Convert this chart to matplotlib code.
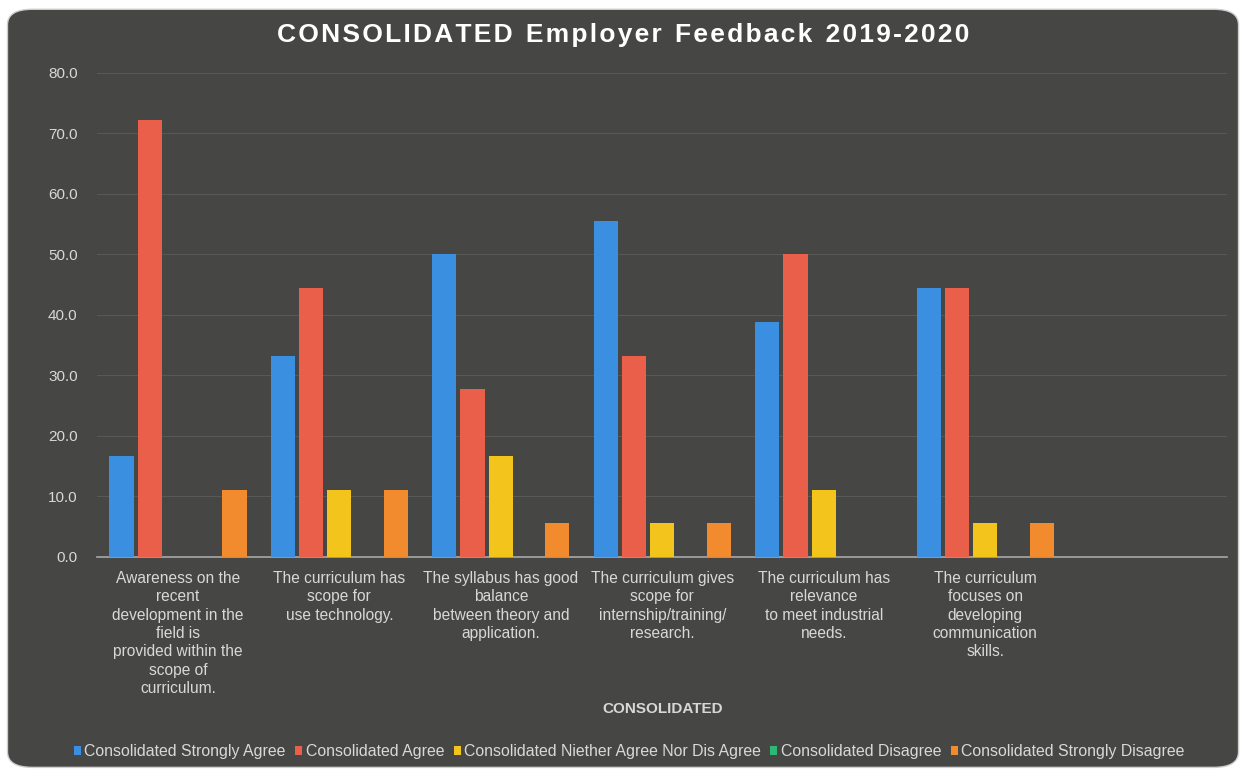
import matplotlib
matplotlib.use("Agg")
import matplotlib.pyplot as plt
import numpy as np
from matplotlib.patches import FancyBboxPatch

plt.rcParams['font.family'] = ['Liberation Sans', 'DejaVu Sans']

categories = [
    "Awareness on the\nrecent\ndevelopment in the\nfield is\nprovided within the\nscope of\ncurriculum.",
    "The curriculum has\nscope for\nuse technology.",
    "The syllabus has good\nbalance\nbetween theory and\napplication.",
    "The curriculum gives\nscope for\ninternship/training/\nresearch.",
    "The curriculum has\nrelevance\nto meet industrial\nneeds.",
    "The curriculum\nfocuses on\ndeveloping\ncommunication\nskills.",
    "",
]

strongly_agree = [16.7, 33.3, 50.0, 55.6, 38.9, 44.4, 0]
agree = [72.2, 44.4, 27.8, 33.3, 50.0, 44.4, 0]
neither = [0, 11.1, 16.7, 5.6, 11.1, 5.6, 0]
disagree = [0, 0, 0, 0, 0, 0, 0]
strongly_disagree = [11.1, 11.1, 5.6, 5.6, 0, 5.6, 0]

series_names = [
    "Consolidated Strongly Agree",
    "Consolidated Agree",
    "Consolidated Niether Agree Nor Dis Agree",
    "Consolidated Disagree",
    "Consolidated Strongly Disagree",
]
series_values = [strongly_agree, agree, neither, disagree, strongly_disagree]
colors = ["#3b8fe0", "#ea5f4a", "#f2c41c", "#2fb873", "#f28a2e"]

title = "CONSOLIDATED Employer Feedback 2019-2020"

bg = "#464644"
txt = "#d8d8d8"

fig = plt.figure(figsize=(12.46, 7.72), dpi=100)
fig.patch.set_facecolor("white")

# rounded dark panel behind the chart
panel = FancyBboxPatch((0.006, 0.006), 0.988, 0.982,
                       boxstyle="round,pad=0,rounding_size=0.02",
                       transform=fig.transFigure, facecolor=bg,
                       edgecolor="#cfcfcf", linewidth=1.0, zorder=-10)
fig.patches.append(panel)

ax = fig.add_axes([0.078, 0.2785, 0.907, 0.627])
ax.set_facecolor(bg)

x = np.arange(len(categories))
step = 0.175
width = 0.15
for i, (name, vals) in enumerate(zip(series_names, series_values)):
    ax.bar(x + (i - 2) * step, vals, width=width, color=colors[i],
           label=name, zorder=3)

ax.set_xlim(-0.5, len(categories) - 0.5)
ax.set_ylim(0, 80)
ax.set_yticks(np.arange(0, 81, 10))
ax.set_yticklabels([f"{v:.1f}" for v in np.arange(0, 81, 10)])
ax.set_xticks(x)
ax.set_xticklabels(categories, fontsize=11.2, color=txt, linespacing=1.28)
ax.tick_params(axis="y", colors=txt, labelsize=11, length=0, pad=14)
ax.tick_params(axis="x", length=0, pad=10)

ax.grid(axis="y", color="#585856", linewidth=0.8, zorder=0)
for s in ["top", "right", "left"]:
    ax.spines[s].set_visible(False)
ax.spines["bottom"].set_color("#a8a8a8")
ax.spines["bottom"].set_linewidth(1.2)

ax.set_xlabel("CONSOLIDATED", fontsize=11, fontweight="bold", color=txt)
ax.xaxis.set_label_coords(0.5, -0.3)

# letter-spaced title
spaced = "\u2002".join("\u200a".join(w) for w in title.split(" "))
fig.text(0.5, 0.955, spaced, ha="center", va="center", fontsize=19,
         fontweight="bold", color="white")

leg = fig.legend(loc="center", bbox_to_anchor=(0.505, 0.026), ncol=5,
                 frameon=False, fontsize=11.4, handlelength=0.45,
                 handleheight=0.5, handletextpad=0.2, columnspacing=0.6)
for t in leg.get_texts():
    t.set_color(txt)

fig.savefig("out.png", dpi=100, facecolor=fig.get_facecolor())
